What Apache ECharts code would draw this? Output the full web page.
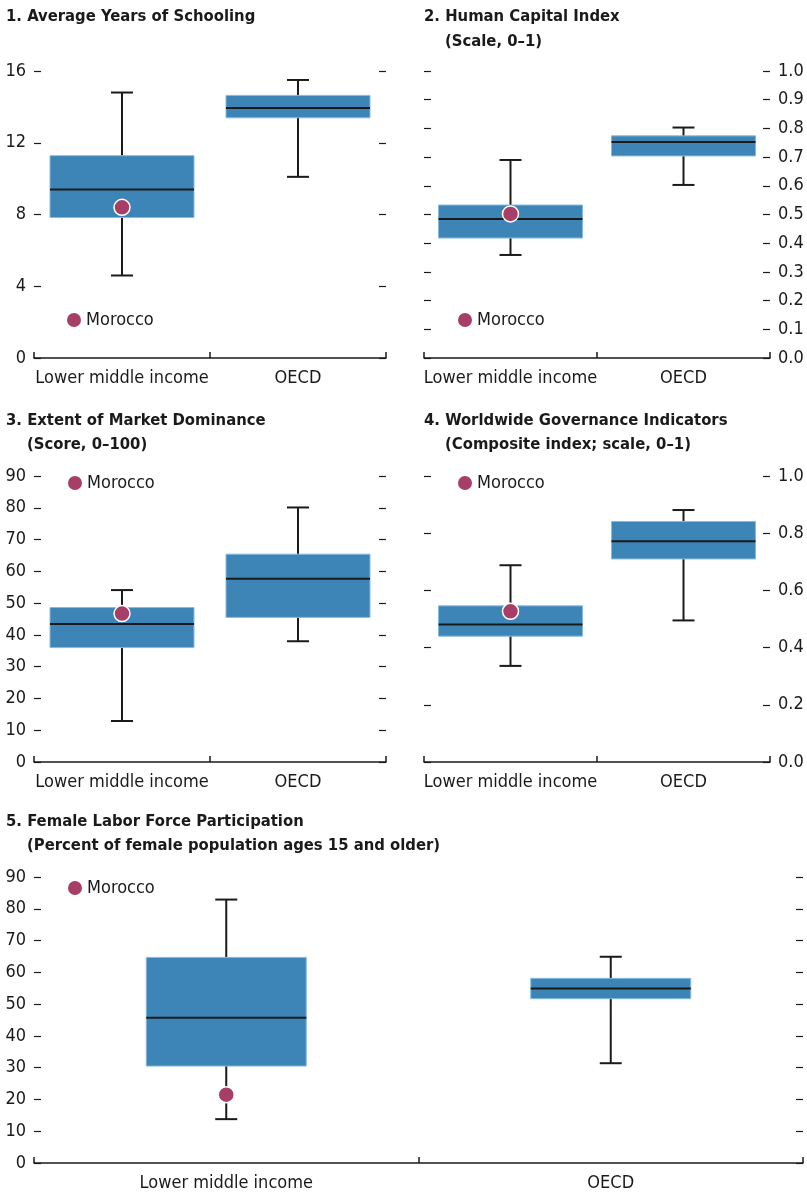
<!DOCTYPE html>
<html>
<head>
<meta charset="utf-8">
<script src="https://cdn.jsdelivr.net/npm/echarts@6/dist/echarts.min.js"></script>
<style>
  html, body { margin: 0; padding: 0; background: #ffffff; }
  #chart { width: 807px; height: 1194px; }
</style>
</head>
<body>
<div id="chart"></div>
<script>
// Categories shared by every panel
const categories = ['Lower middle income', 'OECD'];

// Box statistics per category: [lower whisker, Q1, median, Q3, upper whisker]
const schoolingBoxes = [[4.6, 7.83, 9.39, 11.28, 14.8], [10.1, 13.39, 13.94, 14.64, 15.5]];
const schoolingMorocco = 8.4;

const humanCapitalBoxes = [[0.359, 0.418, 0.484, 0.533, 0.69], [0.603, 0.704, 0.753, 0.774, 0.803]];
const humanCapitalMorocco = 0.502;

const dominanceBoxes = [[12.9, 36.0, 43.4, 48.6, 54.1], [38.0, 45.5, 57.7, 65.4, 80.1]];
const dominanceMorocco = 46.7;

const governanceBoxes = [[0.336, 0.44, 0.481, 0.546, 0.688], [0.495, 0.71, 0.772, 0.841, 0.881]];
const governanceMorocco = 0.527;

const femaleLaborBoxes = [[13.8, 30.5, 45.7, 64.7, 82.9], [31.4, 51.7, 54.9, 58.1, 64.9]];
const femaleLaborMorocco = 21.5;

// Panel titles (first line, second line)
const panelTitles = [
  ['1. Average Years of Schooling', ''],
  ['2. Human Capital Index', '(Scale, 0\u20131)'],
  ['3. Extent of Market Dominance', '(Score, 0\u2013100)'],
  ['4. Worldwide Governance Indicators', '(Composite index; scale, 0\u20131)'],
  ['5. Female Labor Force Participation', '(Percent of female population ages 15 and older)']
];

const FONT = '"Liberation Sans Narrow", "Arial Narrow", "DejaVu Sans Condensed", sans-serif';
const INK = '#1a1a1a';
const BOX_FILL = '#3d85b6';
const BOX_EDGE = '#86bbe0';
const MOROCCO = '#a63e68';

// Panel layout: grid box, y scale, which side carries labels, box width
const panels = [
  { boxes: schoolingBoxes, morocco: schoolingMorocco, grid: { left: 34, right: 421, top: 71, height: 287 },
    min: 0, max: 16, interval: 4, labelSide: 'left', digits: 0, boxW: 144, legend: { left: 67, top: 311 } },
  { boxes: humanCapitalBoxes, morocco: humanCapitalMorocco, grid: { left: 424, right: 37, top: 71, height: 287 },
    min: 0, max: 1, interval: 0.1, labelSide: 'right', digits: 1, boxW: 144, legend: { left: 458, top: 311 } },
  { boxes: dominanceBoxes, morocco: dominanceMorocco, grid: { left: 34, right: 421, top: 476, height: 286 },
    min: 0, max: 90, interval: 10, labelSide: 'left', digits: 0, boxW: 144, legend: { left: 68, top: 474 } },
  { boxes: governanceBoxes, morocco: governanceMorocco, grid: { left: 424, right: 37, top: 476, height: 286 },
    min: 0, max: 1, interval: 0.2, labelSide: 'right', digits: 1, boxW: 144, legend: { left: 458, top: 474 } },
  { boxes: femaleLaborBoxes, morocco: femaleLaborMorocco, grid: { left: 34, right: 4, top: 877, height: 286 },
    min: 0, max: 90, interval: 10, labelSide: 'left', digits: 0, boxW: 160, legend: { left: 68, top: 879 } }
];

const titleSpots = [
  [{ left: 6, top: 7 }, null],
  [{ left: 424, top: 7 }, { left: 445, top: 32 }],
  [{ left: 6, top: 411 }, { left: 27, top: 435 }],
  [{ left: 424, top: 411 }, { left: 445, top: 435 }],
  [{ left: 6, top: 812 }, { left: 27, top: 836 }]
];

const CAP_W = 22;
const TITLE_SIZE = 16.5;

function boxRenderer(boxWidth) {
  return function (params, api) {
    const x = api.value(0);
    const lo = api.coord([x, api.value(1)]);
    const q1 = api.coord([x, api.value(2)]);
    const med = api.coord([x, api.value(3)]);
    const q3 = api.coord([x, api.value(4)]);
    const hi = api.coord([x, api.value(5)]);
    const cx = lo[0];
    const half = boxWidth / 2;
    const line = { stroke: INK, lineWidth: 2 };
    return {
      type: 'group',
      children: [
        { type: 'line', shape: { x1: cx, y1: lo[1], x2: cx, y2: hi[1] }, style: line },
        { type: 'line', shape: { x1: cx - CAP_W / 2, y1: lo[1], x2: cx + CAP_W / 2, y2: lo[1] }, style: line },
        { type: 'line', shape: { x1: cx - CAP_W / 2, y1: hi[1], x2: cx + CAP_W / 2, y2: hi[1] }, style: line },
        { type: 'rect', shape: { x: cx - half, y: q3[1], width: boxWidth, height: q1[1] - q3[1] },
          style: { fill: BOX_FILL, stroke: BOX_EDGE, lineWidth: 1 } },
        { type: 'line', shape: { x1: cx - half, y1: med[1], x2: cx + half, y2: med[1] }, style: line }
      ]
    };
  };
}

const option = {
  animation: false,
  backgroundColor: '#ffffff',
  textStyle: { fontFamily: FONT, color: INK },
  title: [],
  legend: [],
  grid: [],
  xAxis: [],
  yAxis: [],
  series: []
};

panelTitles.forEach(function (lines, i) {
  const spots = titleSpots[i];
  option.title.push({
    text: lines[0], left: spots[0].left, top: spots[0].top, padding: 0,
    textStyle: { fontFamily: FONT, fontWeight: 'bold', fontSize: TITLE_SIZE, color: INK, lineHeight: 20 }
  });
  if (lines[1]) {
    option.title.push({
      text: lines[1], left: spots[1].left, top: spots[1].top, padding: 0,
      textStyle: { fontFamily: FONT, fontWeight: 'bold', fontSize: TITLE_SIZE, color: INK, lineHeight: 20 }
    });
  }
});

panels.forEach(function (p, i) {
  option.grid.push(Object.assign({ containLabel: false }, p.grid));

  option.xAxis.push({
    type: 'category', gridIndex: i, data: categories, boundaryGap: true,
    axisLine: { show: true, lineStyle: { color: INK, width: 1.5 } },
    axisTick: { show: true, inside: true, length: 6, alignWithLabel: false, interval: 0,
      lineStyle: { color: INK, width: 1.5 } },
    axisLabel: { color: INK, fontFamily: FONT, fontSize: 18, margin: 11, interval: 0 },
    splitLine: { show: false }
  });

  const fmt = function (v) { return v.toFixed(p.digits); };
  ['left', 'right'].forEach(function (side) {
    option.yAxis.push({
      type: 'value', gridIndex: i, position: side,
      min: p.min, max: p.max, interval: p.interval,
      axisLine: { show: false },
      axisTick: { show: true, inside: true, length: 7, lineStyle: { color: INK, width: 1.2 } },
      axisLabel: { show: side === p.labelSide, color: INK, fontFamily: FONT, fontSize: 18,
        margin: 8, formatter: fmt },
      splitLine: { show: false }
    });
  });
  const yIdx = i * 2;

  option.series.push({
    type: 'custom', name: 'box' + (i + 1), xAxisIndex: i, yAxisIndex: yIdx,
    renderItem: boxRenderer(p.boxW),
    encode: { x: 0, y: [1, 2, 3, 4, 5] },
    data: p.boxes.map(function (b, c) { return [c].concat(b); }),
    z: 2
  });

  option.series.push({
    type: 'scatter', name: 'Morocco', xAxisIndex: i, yAxisIndex: yIdx,
    symbol: 'circle', symbolSize: 16,
    itemStyle: { color: MOROCCO, borderColor: '#ffffff', borderWidth: 1.5, opacity: 1 },
    data: [[0, p.morocco]],
    z: 5
  });

  option.legend.push({
    data: ['Morocco'], left: p.legend.left, top: p.legend.top, orient: 'horizontal',
    selectedMode: false, padding: 0, itemGap: 0,
    icon: 'circle', itemWidth: 14, itemHeight: 14,
    itemStyle: { color: MOROCCO, borderWidth: 0 },
    textStyle: { color: INK, fontFamily: FONT, fontSize: 18, padding: [0, 0, 0, 0] }
  });
});

const chart = echarts.init(document.getElementById('chart'), null, { renderer: 'canvas' });
chart.setOption(option);
</script>
</body>
</html>
